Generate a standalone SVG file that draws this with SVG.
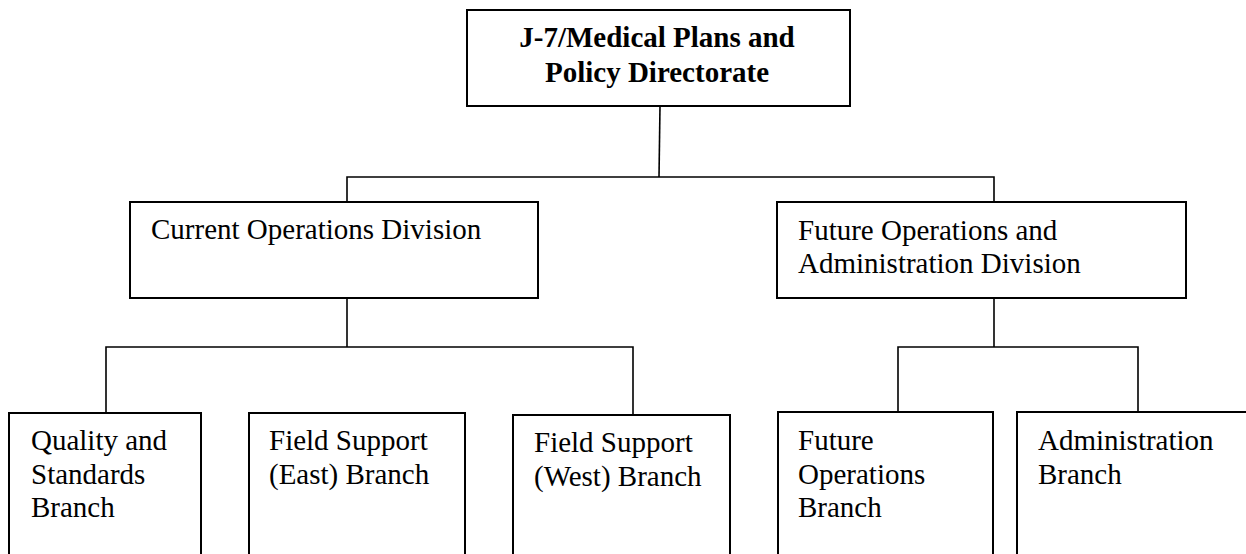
<svg xmlns="http://www.w3.org/2000/svg" width="1246" height="554" viewBox="0 0 1246 554">
<style>
.box{fill:#fff;stroke:#000;stroke-width:2}
.ln{fill:none;stroke:#000;stroke-width:1.6}
.t{font-family:"Liberation Serif","Times New Roman",serif;font-size:29px;fill:#000}
.b{font-weight:bold}
</style>
<rect width="1246" height="554" fill="#fff"/>
<g id="connectors">
<path class="ln" d="M660 106 L659 177"/>
<path class="ln" d="M347 202 V177 H994 V202"/>
<path class="ln" d="M347 298 V347"/>
<path class="ln" d="M106 419 V347 H633 V419"/>
<path class="ln" d="M994 298 V347"/>
<path class="ln" d="M898 412 V347 H1138 V412"/>
</g>
<g id="directorate">
<rect class="box" x="467" y="10" width="383" height="96"/>
<text class="t b" x="657" y="47" text-anchor="middle">J-7/Medical Plans and</text>
<text class="t b" x="657" y="82" text-anchor="middle">Policy Directorate</text>
</g>
<g id="current-ops">
<rect class="box" x="130" y="202" width="408" height="96"/>
<text class="t" x="151" y="239">Current Operations Division</text>
</g>
<g id="future-ops-admin">
<rect class="box" x="777" y="202" width="409" height="96"/>
<text class="t" x="798" y="240">Future Operations and</text>
<text class="t" x="798" y="273">Administration Division</text>
</g>
<g id="quality">
<rect class="box" x="9" y="413" width="192" height="160"/>
<text class="t" x="31" y="450">Quality and</text>
<text class="t" x="31" y="484">Standards</text>
<text class="t" x="31" y="517">Branch</text>
</g>
<g id="field-east">
<rect class="box" x="249" y="413" width="216" height="160"/>
<text class="t" x="269" y="450">Field Support</text>
<text class="t" x="269" y="484">(East) Branch</text>
</g>
<g id="field-west">
<rect class="box" x="513" y="415" width="217" height="160"/>
<text class="t" x="534" y="452">Field Support</text>
<text class="t" x="534" y="486">(West) Branch</text>
</g>
<g id="future-ops-branch">
<rect class="box" x="778" y="412" width="215" height="160"/>
<text class="t" x="798" y="450">Future</text>
<text class="t" x="798" y="484">Operations</text>
<text class="t" x="798" y="517">Branch</text>
</g>
<g id="admin-branch">
<rect class="box" x="1017" y="412" width="260" height="160"/>
<text class="t" x="1038" y="450">Administration</text>
<text class="t" x="1038" y="484">Branch</text>
</g>
</svg>
